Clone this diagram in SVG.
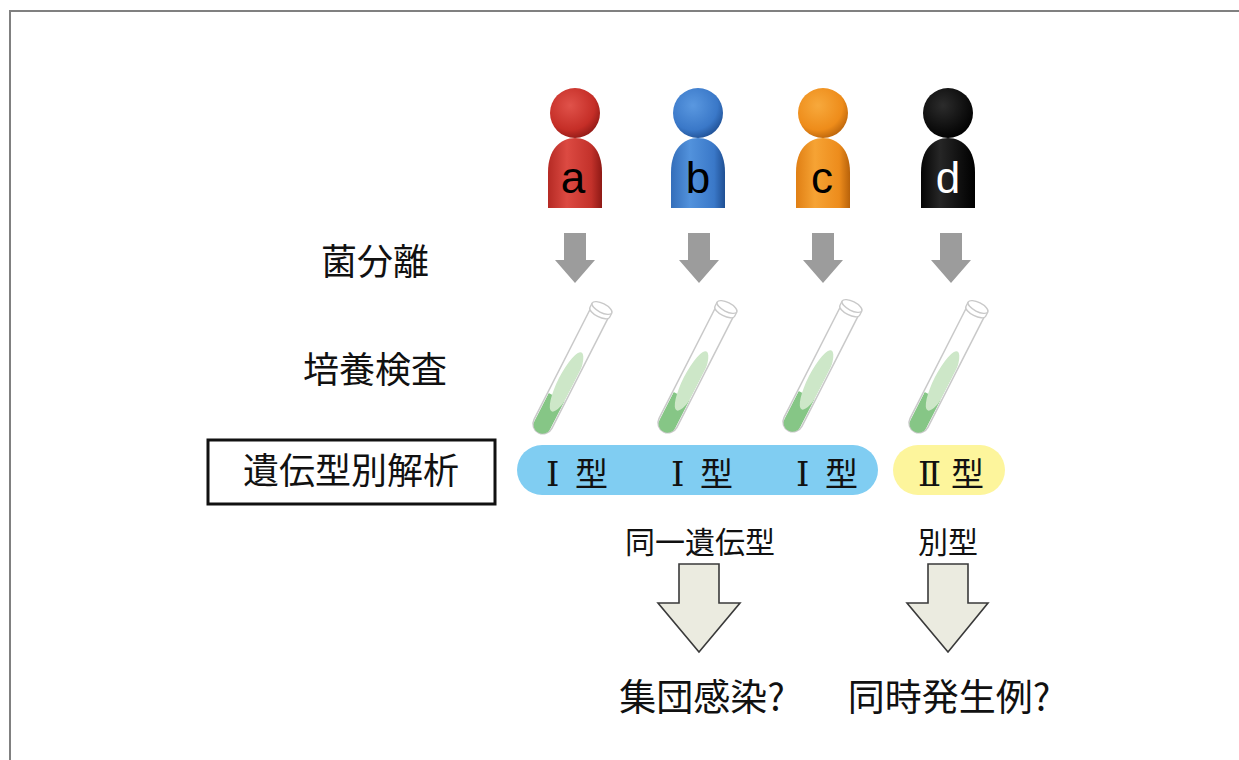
<svg xmlns="http://www.w3.org/2000/svg" width="1239" height="760" viewBox="0 0 1239 760">
  <style>
    .jp { font-family: "Noto Sans CJK JP", "Noto Sans CJK SC", sans-serif; fill: #111; }
    .letter { font-family: "Liberation Sans", Arial, sans-serif; font-size: 44px; text-anchor: middle; }
    .step { font-size: 36px; text-anchor: middle; }
    .type { font-size: 33px; }
    .numeral { font-family: "DejaVu Serif", "Liberation Serif", serif; font-size: 34px; }
    .note { font-size: 30px; text-anchor: middle; }
    .result { font-size: 37px; text-anchor: middle; }
    .grey-arrow { fill: #9c9c9c; }
    .hollow-arrow { fill: #ebebe0; stroke: #3a3a3a; stroke-width: 1.6; stroke-linejoin: miter; }
    .tube-wall { fill: #ffffff; stroke: #c9c9c9; stroke-width: 1.5; }
    .tube-cap { fill: #ffffff; stroke: #c9c9c9; stroke-width: 1.4; }
  </style>
  <defs>
    <radialGradient id="headRed" cx="0.4" cy="0.35" r="0.7">
      <stop offset="0" stop-color="#e0524a"/><stop offset="0.7" stop-color="#c52e27"/><stop offset="1" stop-color="#8e1915"/>
    </radialGradient>
    <linearGradient id="bodyRed" x1="0" y1="0" x2="1" y2="0">
      <stop offset="0" stop-color="#b52a24"/><stop offset="0.35" stop-color="#dc4a42"/><stop offset="0.8" stop-color="#c3322b"/><stop offset="1" stop-color="#8e1915"/>
    </linearGradient>
    <radialGradient id="headBlue" cx="0.4" cy="0.35" r="0.7">
      <stop offset="0" stop-color="#5a98e0"/><stop offset="0.7" stop-color="#3a78c8"/><stop offset="1" stop-color="#1f4f93"/>
    </radialGradient>
    <linearGradient id="bodyBlue" x1="0" y1="0" x2="1" y2="0">
      <stop offset="0" stop-color="#346eba"/><stop offset="0.35" stop-color="#5292dc"/><stop offset="0.8" stop-color="#3a78c8"/><stop offset="1" stop-color="#1f4f93"/>
    </linearGradient>
    <radialGradient id="headOrange" cx="0.4" cy="0.35" r="0.7">
      <stop offset="0" stop-color="#f7a93c"/><stop offset="0.7" stop-color="#ee8c1a"/><stop offset="1" stop-color="#b8620a"/>
    </radialGradient>
    <linearGradient id="bodyOrange" x1="0" y1="0" x2="1" y2="0">
      <stop offset="0" stop-color="#e07f14"/><stop offset="0.35" stop-color="#f6a334"/><stop offset="0.8" stop-color="#ed8c1c"/><stop offset="1" stop-color="#b8620a"/>
    </linearGradient>
    <radialGradient id="headBlack" cx="0.4" cy="0.35" r="0.7">
      <stop offset="0" stop-color="#2c2c2c"/><stop offset="0.7" stop-color="#0d0d0d"/><stop offset="1" stop-color="#000"/>
    </radialGradient>
    <linearGradient id="bodyBlack" x1="0" y1="0" x2="1" y2="0">
      <stop offset="0" stop-color="#050505"/><stop offset="0.35" stop-color="#262626"/><stop offset="0.8" stop-color="#0b0b0b"/><stop offset="1" stop-color="#000"/>
    </linearGradient>
    <clipPath id="tubeInside">
      <path d="M -9,4 L -9,131 A 9,9 0 0 0 9,131 L 9,4 Z"/>
    </clipPath>
    <!-- one tilted culture tube, drawn upright from its mouth at the origin -->
    <g id="tube">
      <path class="tube-wall" d="M -10,2 L -10,130 A 10,10 0 0 0 10,130 L 10,2"/>
      <g clip-path="url(#tubeInside)">
        <rect x="-10" y="100" width="20" height="45" fill="#86c686"/>
        <ellipse cx="2" cy="82" rx="8.5" ry="33" fill="#cde7c8"/>
      </g>
      <path class="tube-cap" d="M -11,0 L -11,5 A 11,4.5 0 0 0 11,5 L 11,0"/>
      <ellipse class="tube-cap" cx="0" cy="0" rx="11" ry="4.5"/>
    </g>
    <path id="greyArrow" d="M -11,0 L 11,0 L 11,27 L 20,27 L 0,50 L -20,27 L -11,27 Z"/>
  </defs>

  <!-- frame lines -->
  <path d="M 10,760 L 10,11 L 1239,11" fill="none" stroke="#808080" stroke-width="2"/>

  <!-- row labels -->
  <g id="label-isolation"><text class="jp step" x="375" y="275">菌分離</text></g>
  <g id="label-culture"><text class="jp step" x="375" y="383">培養検査</text></g>
  <g id="label-genotyping">
    <rect x="208" y="440" width="287" height="64" fill="#fff" stroke="#111" stroke-width="3"/>
    <text class="jp step" x="351" y="484">遺伝型別解析</text>
  </g>

  <!-- patients -->
  <g id="patient-a">
    <path d="M 548,208 L 548,172 C 548,150 560,138 575,138 C 590,138 602,150 602,172 L 602,208 Z" fill="url(#bodyRed)"/>
    <circle cx="575" cy="113" r="25" fill="url(#headRed)"/>
    <text class="letter" x="573" y="193" fill="#000">a</text>
  </g>
  <g id="patient-b">
    <path d="M 671,208 L 671,172 C 671,150 683,138 698,138 C 713,138 725,150 725,172 L 725,208 Z" fill="url(#bodyBlue)"/>
    <circle cx="698" cy="113" r="25" fill="url(#headBlue)"/>
    <text class="letter" x="698" y="193" fill="#000">b</text>
  </g>
  <g id="patient-c">
    <path d="M 796,208 L 796,172 C 796,150 808,138 823,138 C 838,138 850,150 850,172 L 850,208 Z" fill="url(#bodyOrange)"/>
    <circle cx="823" cy="113" r="25" fill="url(#headOrange)"/>
    <text class="letter" x="822" y="193" fill="#000">c</text>
  </g>
  <g id="patient-d">
    <path d="M 921,208 L 921,172 C 921,150 933,138 948,138 C 963,138 975,150 975,172 L 975,208 Z" fill="url(#bodyBlack)"/>
    <circle cx="948" cy="113" r="25" fill="url(#headBlack)"/>
    <text class="letter" x="948" y="193" fill="#fff">d</text>
  </g>

  <!-- isolation arrows and result arrows -->
  <g id="connectors">
    <use href="#greyArrow" class="grey-arrow" x="575" y="233"/>
    <use href="#greyArrow" class="grey-arrow" x="699" y="233"/>
    <use href="#greyArrow" class="grey-arrow" x="823" y="233"/>
    <use href="#greyArrow" class="grey-arrow" x="951" y="233"/>
    <path class="hollow-arrow" d="M 679,564 L 719,564 L 719,603 L 740,603 L 699,652 L 658,603 L 679,603 Z"/>
    <path class="hollow-arrow" d="M 928,564 L 968,564 L 968,603 L 988,603 L 948,652 L 907,603 L 928,603 Z"/>
  </g>

  <!-- culture tubes -->
  <g id="tube-a"><use href="#tube" transform="translate(602,308) rotate(27)"/></g>
  <g id="tube-b"><use href="#tube" transform="translate(727,307) rotate(27)"/></g>
  <g id="tube-c"><use href="#tube" transform="translate(852,306) rotate(27)"/></g>
  <g id="tube-d"><use href="#tube" transform="translate(978,307) rotate(27)"/></g>

  <!-- genotype results -->
  <g id="type-I">
    <rect x="517" y="445" width="361" height="50" rx="25" fill="#80cdf2"/>
    <text class="jp type" y="486"><tspan class="numeral" x="546">Ⅰ</tspan><tspan x="575">型</tspan></text>
    <text class="jp type" y="486"><tspan class="numeral" x="671">Ⅰ</tspan><tspan x="700">型</tspan></text>
    <text class="jp type" y="486"><tspan class="numeral" x="796">Ⅰ</tspan><tspan x="825">型</tspan></text>
  </g>
  <g id="type-II">
    <rect x="893" y="445" width="112" height="50" rx="25" fill="#fdf59c"/>
    <text class="jp type" y="486"><tspan class="numeral" x="918">Ⅱ</tspan><tspan x="951">型</tspan></text>
  </g>

  <g id="label-same"><text class="jp note" x="700" y="553">同一遺伝型</text></g>
  <g id="label-different"><text class="jp note" x="948" y="553">別型</text></g>

  <g id="result-cluster"><text class="jp result" x="702" y="711">集団感染?</text></g>
  <g id="result-coincident"><text class="jp result" x="949" y="711">同時発生例?</text></g>
</svg>
